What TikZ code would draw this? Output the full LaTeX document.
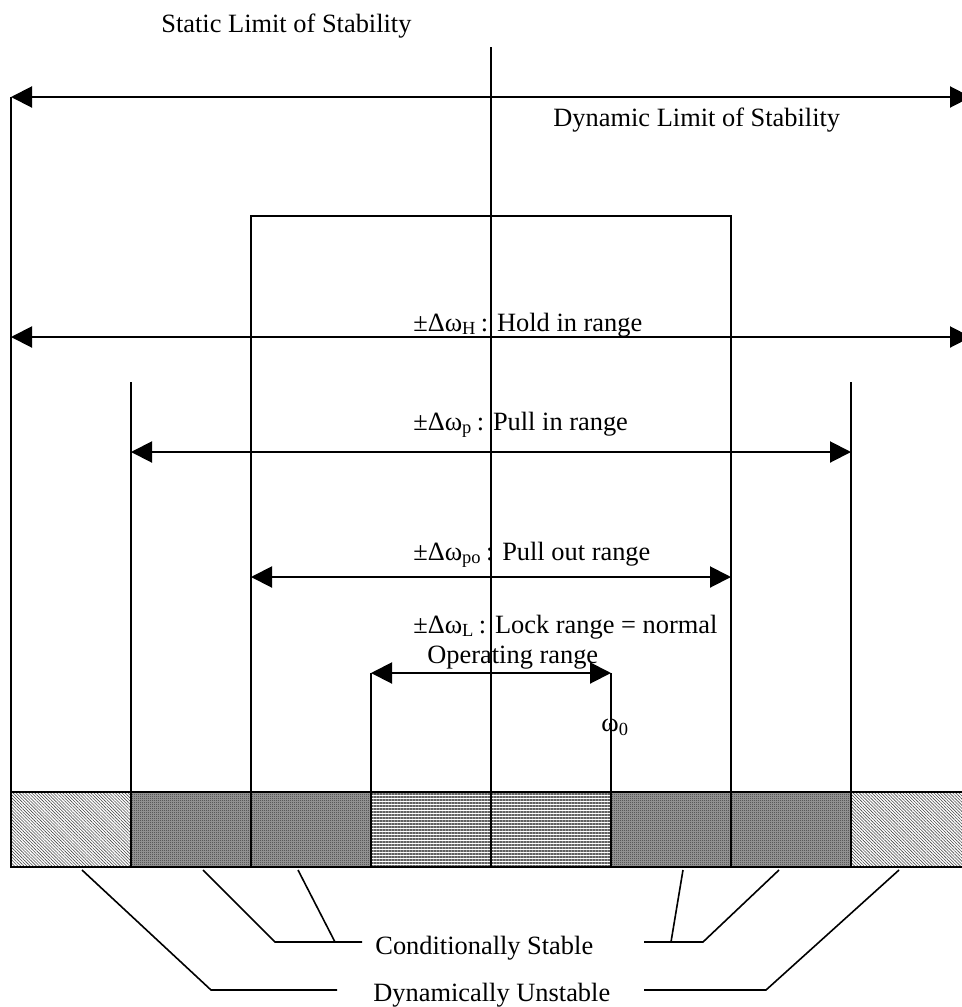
\documentclass[tikz,border=0pt]{standalone}
\usepackage{fontspec}
\setmainfont{Liberation Serif}
\usetikzlibrary{arrows.meta,patterns,patterns.meta}

% fine 50% checkerboard used for the conditionally stable bands
\pgfdeclarepatternformonly{checker}{\pgfpointorigin}{\pgfqpoint{1pt}{1pt}}{\pgfqpoint{1pt}{1pt}}{%
  \pgfpathrectangle{\pgfpointorigin}{\pgfqpoint{0.5pt}{0.5pt}}%
  \pgfpathrectangle{\pgfqpoint{0.5pt}{0.5pt}}{\pgfqpoint{0.5pt}{0.5pt}}%
  \pgfusepath{fill}}

\tikzset{
  tri/.tip={Triangle[length=10.5pt,width=10.5pt]},
  rangearrow/.style={line width=1pt, tri-tri},
  limitline/.style={line width=1pt},
  leader/.style={line width=0.8pt},
  barcell/.style={draw, line width=1.3pt},
  unstablecell/.style={barcell, pattern={Lines[angle=-45,distance=1.1pt,line width=0.3pt]}, pattern color=black!70},
  condbase/.style={fill=black!38},
  condcell/.style={barcell, pattern=checker, pattern color=black!80},
  lockcell/.style={barcell, pattern={Lines[angle=0,distance=1.5pt,line width=0.6pt]}, pattern color=black!62},
  lbl/.style={inner sep=0pt, anchor=base west, font=\fontsize{13.2}{16}\selectfont},
}

\begin{document}
\begin{tikzpicture}[x=0.5pt, y=-0.5pt]
\clip (0,0) rectangle (962,1007);

% ---- frequency bar ----
\path[condbase] (131,792) rectangle (371,867);
\path[condbase] (611,792) rectangle (851,867);
\path[unstablecell] (11,792) rectangle (131,867);
\path[condcell]     (131,792) rectangle (251,867);
\path[condcell]     (251,792) rectangle (371,867);
\path[lockcell]     (371,792) rectangle (491,867);
\path[lockcell]     (491,792) rectangle (611,867);
\path[condcell]     (611,792) rectangle (731,867);
\path[condcell]     (731,792) rectangle (851,867);
\path[unstablecell] (851,792) rectangle (971,867);

% ---- reference points ----
\coordinate (topC)  at (491,47);
\coordinate (botC)  at (491,867);
\coordinate (sL)    at (11,97);
\coordinate (sR)    at (971,97);
\coordinate (sLb)   at (11,792);
\coordinate (sRb)   at (971,792);
\coordinate (hL)    at (11,337);
\coordinate (hR)    at (971,337);
\coordinate (pLt)   at (131,382);
\coordinate (pRt)   at (851,382);
\coordinate (pLb)   at (131,792);
\coordinate (pRb)   at (851,792);
\coordinate (pL)    at (131,452);
\coordinate (pR)    at (851,452);
\coordinate (oLt)   at (251,216);
\coordinate (oRt)   at (731,216);
\coordinate (oLb)   at (251,792);
\coordinate (oRb)   at (731,792);
\coordinate (oL)    at (251,577);
\coordinate (oR)    at (731,577);
\coordinate (lL)    at (371,673);
\coordinate (lR)    at (611,673);
\coordinate (lLb)   at (371,792);
\coordinate (lRb)   at (611,792);

% ---- centre frequency line and range boundaries ----
\draw[limitline] (topC) -- (botC);
\draw[limitline] (sL) -- (sLb);
\draw[limitline] (sR) -- (sRb);
\draw[limitline] (pLt) -- (pLb);
\draw[limitline] (pRt) -- (pRb);
\draw[limitline] (oLb) -- (oLt) -- (oRt) -- (oRb);
\draw[limitline] (lL) -- (lLb);
\draw[limitline] (lR) -- (lRb);

% ---- range arrows ----
\draw[rangearrow] (sL) -- (sR);
\draw[rangearrow] (hL) -- (hR);
\draw[rangearrow] (pL) -- (pR);
\draw[rangearrow] (oL) -- (oR);
\draw[rangearrow] (lL) -- (lR);

% ---- labels ----
\node[lbl] (static)  at (161,32)  {Static Limit of Stability};
\node[lbl] (dynamic) at (553,126) {Dynamic Limit of Stability};
\node[lbl] (hold)    at (413,331) {±Δω\textsubscript{H}\,: Hold in range};
\node[lbl] (pullin)  at (413,430) {±Δω\textsubscript{p}\,: Pull in range};
\node[lbl] (pullout) at (413,560) {±Δω\textsubscript{po}\,: Pull out range};
\node[lbl] (lock)    at (413,633) {±Δω\textsubscript{L}\,: Lock range = normal};
\node[lbl] (oper)    at (427,663) {Operating range};
\node[lbl] (omega)   at (601,731) {ω\textsubscript{0}};
\node[lbl] (cond)    at (375,954) {Conditionally Stable};
\node[lbl] (dyn)     at (373,1001) {Dynamically Unstable};

% ---- leader lines from the bar to the legend ----
\coordinate (c1a) at (203,870); \coordinate (c1b) at (275,942);
\coordinate (c2a) at (298,870); \coordinate (c2b) at (335,942);
\coordinate (c1e) at (362,942);
\coordinate (c3a) at (779,870); \coordinate (c3b) at (703,942);
\coordinate (c4a) at (683,870); \coordinate (c4b) at (671,942);
\coordinate (c3e) at (644,942);
\coordinate (d1a) at (82,870);  \coordinate (d1b) at (211,990);
\coordinate (d1e) at (337,990);
\coordinate (d2a) at (899,870); \coordinate (d2b) at (766,990);
\coordinate (d2e) at (644,990);

\draw[leader] (c1a) -- (c1b) -- (c1e);
\draw[leader] (c2a) -- (c2b);
\draw[leader] (c3a) -- (c3b) -- (c3e);
\draw[leader] (c4a) -- (c4b);
\draw[leader] (d1a) -- (d1b) -- (d1e);
\draw[leader] (d2a) -- (d2b) -- (d2e);
\end{tikzpicture}
\end{document}
